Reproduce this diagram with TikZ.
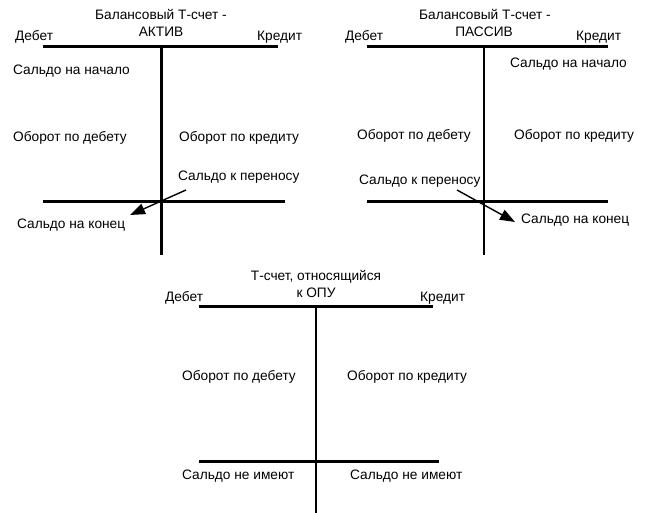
\documentclass[tikz,border=0pt]{standalone}
\usepackage{fontspec}
\setmainfont{Liberation Sans}
\usetikzlibrary{arrows.meta}
\begin{document}
\begin{tikzpicture}[x=1pt,y=-1pt,
  tline/.style={line width=2.2pt},
  lbl/.style={inner sep=0pt,font=\fontsize{13.7}{15}\selectfont,anchor=base west},
  ttl/.style={inner sep=0pt,font=\fontsize{13.7}{15}\selectfont,anchor=base},
  arr/.style={line width=1.4pt,-{Triangle[length=15pt,width=11pt]}}]
\useasboundingbox (0,0) rectangle (645,513);
% ---------- Left T: ACTIVE ----------
\coordinate (a1) at (43,46.5);
\coordinate (a2) at (278,46.5);
\coordinate (av1) at (161.5,46.5);
\coordinate (av2) at (161.5,255);
\coordinate (ab1) at (43,201.5);
\coordinate (ab2) at (285,201.5);
\draw[tline] (a1) -- (a2);
\draw[tline] (av1) -- (av2);
\draw[tline] (ab1) -- (ab2);
\node[ttl] (at1) at (161,20) {Балансовый Т-счет -};
\node[ttl] (at2) at (161,36.5) {АКТИВ};
\node[lbl] (adeb) at (15,41) {Дебет};
\node[lbl] (acred) at (257,41) {Кредит};
\node[lbl] (asn) at (13,75) {Сальдо на начало};
\node[lbl] (aod) at (13,142) {Оборот по дебету};
\node[lbl] (aok) at (179,142) {Оборот по кредиту};
\node[lbl] (akp) at (178,181) {Сальдо к переносу};
\node[lbl] (ask) at (17,229) {Сальдо на конец};
\coordinate (aas) at (186,190);
\coordinate (aae) at (130,215);
\draw[arr] (aas) -- (aae);
% ---------- Right T: PASSIVE ----------
\coordinate (p1) at (367,46.5);
\coordinate (p2) at (608,46.5);
\coordinate (pv1) at (484,46.5);
\coordinate (pv2) at (484,255);
\coordinate (pb1) at (367,201.5);
\coordinate (pb2) at (608,201.5);
\draw[tline] (p1) -- (p2);
\draw[tline] (pv1) -- (pv2);
\draw[tline] (pb1) -- (pb2);
\node[ttl] (pt1) at (485,20) {Балансовый Т-счет -};
\node[ttl] (pt2) at (484,36.5) {ПАССИВ};
\node[lbl] (pdeb) at (345,41) {Дебет};
\node[lbl] (pcred) at (576,41) {Кредит};
\node[lbl] (psn) at (510,68) {Сальдо на начало};
\node[lbl] (pod) at (357,140) {Оборот по дебету};
\node[lbl] (pok) at (514,140) {Оборот по кредиту};
\node[lbl] (pkp) at (359,185) {Сальдо к переносу};
\node[lbl] (psk) at (521,223) {Сальдо на конец};
\coordinate (pas) at (457,190);
\coordinate (pae) at (515,222);
\draw[arr] (pas) -- (pae);
% ---------- Bottom T: OPU ----------
\coordinate (o1) at (199,306.5);
\coordinate (o2) at (433,306.5);
\coordinate (ov1) at (316,306.5);
\coordinate (ov2) at (316,513);
\coordinate (ob1) at (199,461.5);
\coordinate (ob2) at (439,461.5);
\draw[tline] (o1) -- (o2);
\draw[tline] (ov1) -- (ov2);
\draw[tline] (ob1) -- (ob2);
\node[ttl] (ot1) at (316,280) {Т-счет, относящийся};
\node[ttl] (ot2) at (316,297) {к ОПУ};
\node[lbl] (odeb) at (165,301) {Дебет};
\node[lbl] (ocred) at (420,301) {Кредит};
\node[lbl] (ood) at (182,380) {Оборот по дебету};
\node[lbl] (ook) at (347,380) {Оборот по кредиту};
\node[lbl] (osl) at (182,479) {Сальдо не имеют};
\node[lbl] (osr) at (350,479) {Сальдо не имеют};
\end{tikzpicture}
\end{document}
